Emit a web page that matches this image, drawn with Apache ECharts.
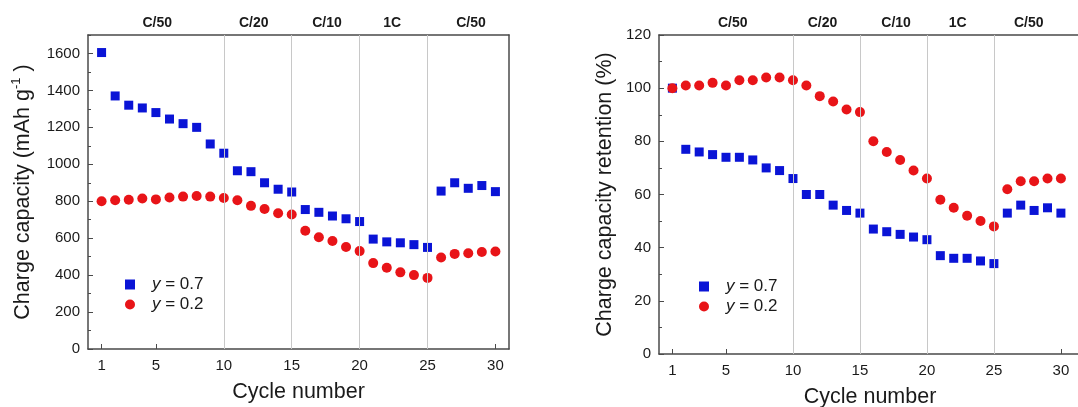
<!DOCTYPE html>
<html>
<head>
<meta charset="utf-8">
<script src="https://cdn.jsdelivr.net/npm/echarts@6/dist/echarts.min.js"></script>
<style>
  html, body { margin: 0; padding: 0; background: #fff; }
  #main { width: 1078px; height: 407px; }
</style>
</head>
<body>
<div id="main"></div>
<script>
// cycle numbers 1..30
const cycles = [1, 2, 3, 4, 5, 6, 7, 8, 9, 10, 11, 12, 13, 14, 15, 16, 17, 18, 19, 20, 21, 22, 23, 24, 25, 26, 27, 28, 29, 30];
// charge capacity (mAh g-1)
const capHigh = [1605, 1370, 1320, 1305, 1280, 1245, 1220, 1200, 1110, 1060, 965, 960, 900, 865, 850, 755, 740, 720, 705, 690, 595, 580, 575, 565, 550, 855, 900, 870, 885, 852];
const capLow = [800, 805, 808, 815, 810, 820, 825, 828, 825, 818, 805, 775, 758, 735, 728, 640, 605, 585, 552, 530, 465, 440, 415, 400, 385, 495, 515, 518, 525, 528];
// charge capacity retention (%)
const retHigh = [100, 77, 76, 75, 74, 74, 73, 70, 69, 66, 60, 60, 56, 54, 53, 47, 46, 45, 44, 43, 37, 36, 36, 35, 34, 53, 56, 54, 55, 53];
const retLow = [100, 101, 101, 102, 101, 103, 103, 104, 104, 103, 101, 97, 95, 92, 91, 80, 76, 73, 69, 66, 58, 55, 52, 50, 48, 62, 65, 65, 66, 66];
// rate steps
const rateNames = ['C/50', 'C/20', 'C/10', '1C', 'C/50'];
const rateBounds = [10, 15, 20, 25];
const xTicks = [1, 5, 10, 15, 20, 25, 30];
const capTicks = [0, 200, 400, 600, 800, 1000, 1200, 1400, 1600];
const retTicks = [0, 20, 40, 60, 80, 100, 120];
const nameHigh = 'y = 0.7';
const nameLow = 'y = 0.2';

const FONT = 'Arial, "Liberation Sans", sans-serif';
const BLUE = '#0a14d6';
const RED = '#e81418';
const AXIS = '#4a4a4a';
const TXT = '#1a1a1a';
const NAME_SIZE = 21.5;

const pairs = (ys) => cycles.map((c, i) => [c, ys[i]]);

// where the rate names sit above each panel
const rateSpotsL = [5.1, 12.2, 17.6, 22.4, 28.2];
const rateSpotsR = [5.5, 12.2, 17.7, 22.3, 27.6];

function bottomX (grid, max) {
  return {
    type: 'value', gridIndex: grid, min: 0, max: max, position: 'bottom',
    name: 'Cycle number', nameLocation: 'middle', nameGap: 32,
    nameTextStyle: { fontFamily: FONT, fontSize: NAME_SIZE, color: TXT },
    axisLine: { show: true, onZero: false, lineStyle: { color: AXIS, width: 1.5 } },
    axisTick: { show: true, inside: true, length: 5, customValues: xTicks, lineStyle: { color: AXIS } },
    axisLabel: { customValues: xTicks, fontFamily: FONT, fontSize: 15, color: TXT, margin: 9 },
    splitLine: { show: false }
  };
}

function topX (grid, max, spots) {
  return {
    type: 'value', gridIndex: grid, min: 0, max: max, position: 'top',
    axisLine: { show: true, onZero: false, lineStyle: { color: AXIS, width: 1.5 } },
    axisTick: { show: false },
    axisLabel: {
      customValues: spots, margin: 5, fontFamily: FONT, fontSize: 14, fontWeight: 'bold', color: TXT,
      formatter: (v) => rateNames[spots.indexOf(v)] || ''
    },
    splitLine: { show: false }
  };
}

function mainY (grid, max, ticks, name, gap, rich) {
  return {
    type: 'value', gridIndex: grid, min: 0, max: max, position: 'left',
    name: name, nameLocation: 'middle', nameGap: gap, nameRotate: 90,
    nameTextStyle: { fontFamily: FONT, fontSize: NAME_SIZE, color: TXT, rich: rich },
    axisLine: { show: true, onZero: false, lineStyle: { color: AXIS, width: 1.5 } },
    axisTick: { show: true, inside: true, length: 5, customValues: ticks, lineStyle: { color: AXIS } },
    axisLabel: { customValues: ticks, formatter: (v) => String(v), fontFamily: FONT, fontSize: 15, color: TXT, margin: 8 },
    splitLine: { show: false }
  };
}

function minorY (grid, max, step) {
  return {
    type: 'value', gridIndex: grid, min: 0, max: max, interval: step, position: 'left',
    axisLine: { show: false },
    axisTick: { show: true, inside: true, length: 3, lineStyle: { color: AXIS } },
    axisLabel: { show: false },
    splitLine: { show: false }
  };
}

function legendFor (left, top) {
  return {
    orient: 'vertical', left: left, top: top, itemWidth: 10, itemHeight: 10, itemGap: 3,
    data: [nameHigh, nameLow],
    formatter: (n) => '{i|y} ' + n.slice(2),
    textStyle: {
      fontFamily: FONT, fontSize: 17, color: TXT, padding: [0, 0, 0, 12],
      rich: { i: { fontFamily: FONT, fontSize: 17, fontStyle: 'italic', color: TXT } }
    }
  };
}

function scatter (name, data, xi, yi, color, symbol, size, bounds) {
  const s = {
    name: name, type: 'scatter', xAxisIndex: xi, yAxisIndex: yi, data: data,
    symbol: symbol, symbolSize: size, itemStyle: { color: color, opacity: 1 },
    emphasis: { disabled: true }
  };
  if (bounds) {
    s.markLine = {
      silent: true, symbol: 'none', label: { show: false },
      lineStyle: { color: '#c8c8c8', width: 1, type: 'solid' },
      data: bounds.map((b) => ({ xAxis: b }))
    };
  }
  return s;
}

const chart = echarts.init(document.getElementById('main'), null, { renderer: 'canvas' });
chart.setOption({
  animation: false,
  backgroundColor: '#fff',
  grid: [
    { left: 88, top: 35, width: 421, height: 314, outerBoundsMode: 'none' },
    { left: 659, top: 35, width: 422, height: 319, outerBoundsMode: 'none' }
  ],
  legend: [legendFor(120, 271), legendFor(694, 273)],
  xAxis: [
    bottomX(0, 31), topX(0, 31, rateSpotsL),
    bottomX(1, 31.5), topX(1, 31.5, rateSpotsR)
  ],
  yAxis: [
    mainY(0, 1700, capTicks, '{a|Charge capacity (mAh g}{s|-1}{a| )}', 52,
      { a: { fontFamily: FONT, fontSize: NAME_SIZE, color: TXT }, s: { fontFamily: FONT, fontSize: 13, color: TXT, verticalAlign: 'bottom', padding: [0, 0, 13, 0] } }),
    minorY(0, 1700, 100),
    {
      type: 'value', gridIndex: 0, min: 0, max: 1700, position: 'right',
      axisLine: { show: true, onZero: false, lineStyle: { color: AXIS, width: 1.5 } },
      axisTick: { show: false }, axisLabel: { show: false }, splitLine: { show: false }
    },
    mainY(1, 120, retTicks, 'Charge capacity retention (%)', 43),
    minorY(1, 120, 10)
  ],
  series: [
    scatter(nameHigh, pairs(capHigh), 0, 0, BLUE, 'rect', 9, rateBounds),
    scatter(nameLow, pairs(capLow), 0, 0, RED, 'circle', 10),
    scatter(nameHigh, pairs(retHigh), 2, 3, BLUE, 'rect', 9, rateBounds),
    scatter(nameLow, pairs(retLow), 2, 3, RED, 'circle', 10)
  ]
});
</script>
</body>
</html>
